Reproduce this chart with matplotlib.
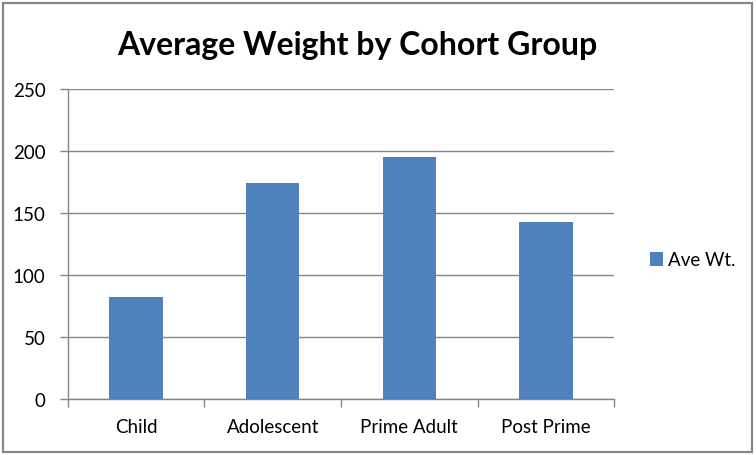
import matplotlib
matplotlib.use('Agg')
import matplotlib.pyplot as plt
from matplotlib.patches import Rectangle
import numpy as np

# chart data
categories = ['Child', 'Adolescent', 'Prime Adult', 'Post Prime']
ave_wt = [82, 174, 195, 143]
y_ticks = [0, 50, 100, 150, 200, 250]

plt.rcParams['font.family'] = ['Lato', 'DejaVu Sans']

W, H = 756, 456
fig = plt.figure(figsize=(W / 100, H / 100), dpi=100, facecolor='white')

# plot area in pixel terms
left, right, top, bottom = 67.7, 614.3, 90, 400
ax = fig.add_axes([left / W, 1 - bottom / H, (right - left) / W, (bottom - top) / H])

x = np.arange(len(categories))
ax.bar(x, ave_wt, width=0.39, color='#4F81BD', zorder=3, label='Ave Wt.')

ax.set_xlim(-0.5, len(categories) - 0.5)
ax.set_ylim(0, 250)
ax.set_yticks(y_ticks)
ax.set_yticklabels([str(v) for v in y_ticks])
ax.grid(axis='y', color='#868686', linewidth=1.0, zorder=0)

# category ticks sit on the boundaries
ax.set_xticks(x)
ax.set_xticklabels(categories)
ax.set_xticks(np.arange(len(categories) + 1) - 0.5, minor=True)
ax.tick_params(axis='x', which='major', length=0, pad=14, labelsize=13.5, colors='black')
ax.tick_params(axis='x', which='minor', length=6, width=1, color='#868686', direction='out')
ax.tick_params(axis='y', length=6, width=1, color='#868686', pad=10, labelsize=13.5)

for side in ['top', 'right']:
    ax.spines[side].set_visible(False)
for side in ['left', 'bottom']:
    ax.spines[side].set_color('#868686')
    ax.spines[side].set_linewidth(1.0)

fig.text(357 / W, 1 - 45 / H, 'Average Weight by Cohort Group', ha='center', va='center',
         fontsize=23, fontweight='bold')

ax.legend(loc='center left', bbox_to_anchor=(642 / W, 1 - 261 / H), bbox_transform=fig.transFigure,
          frameon=False, fontsize=13.5, handlelength=0.7, handleheight=0.7, handletextpad=0.3,
          borderaxespad=0)

# outer chart border
fig.patches.append(Rectangle((3 / W, 3 / H), (W - 7) / W, (H - 7) / H, transform=fig.transFigure,
                             fill=False, edgecolor='#868686', linewidth=1.6))

fig.savefig('out.png', dpi=100, facecolor='white')
